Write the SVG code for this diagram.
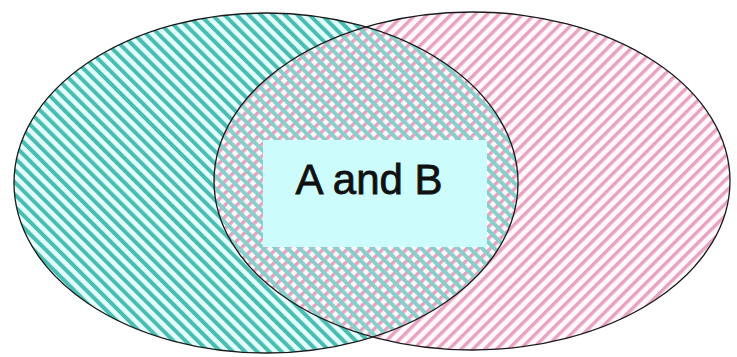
<svg xmlns="http://www.w3.org/2000/svg" width="737" height="357" viewBox="0 0 737 357">
  <style>
    .outline { fill: none; stroke: #1a1a1a; stroke-width: 1.3; }
    .label { font-family: "Liberation Sans", Arial, sans-serif; font-size: 42px; fill: #111; stroke: #111; stroke-width: 0.8; text-anchor: middle; }
  </style>
  <defs>
    <pattern id="tealStripes" width="8.6" height="8.6" patternUnits="userSpaceOnUse" patternTransform="rotate(-45)">
      <rect x="0" y="0" width="4" height="8.6" fill="#48beb2"/>
    </pattern>
    <pattern id="tealStripesLight" width="8.6" height="8.6" patternUnits="userSpaceOnUse" patternTransform="rotate(-45)">
      <rect x="0" y="0" width="4" height="8.6" fill="#86cfcb"/>
    </pattern>
    <pattern id="pinkStripes" width="8.4" height="8.4" patternUnits="userSpaceOnUse" patternTransform="rotate(45)">
      <rect x="0" y="0" width="3.4" height="8.4" fill="#e8a2c0"/>
    </pattern>
    <clipPath id="clipA">
      <ellipse cx="266" cy="183" rx="252" ry="170"/>
    </clipPath>
  </defs>
  <rect width="737" height="357" fill="#ffffff"/>
  <g id="setA">
    <ellipse cx="266" cy="183" rx="252" ry="170" fill="#e6fdfd"/>
    <ellipse cx="266" cy="183" rx="252" ry="170" fill="url(#tealStripes)"/>
  </g>
  <g id="setB">
    <ellipse cx="472" cy="181" rx="258" ry="169" fill="#fff8fb"/>
    <ellipse cx="472" cy="181" rx="258" ry="169" fill="url(#pinkStripes)"/>
  </g>
  <g id="overlap" clip-path="url(#clipA)">
    <ellipse cx="472" cy="181" rx="258" ry="169" fill="url(#tealStripesLight)" style="mix-blend-mode:multiply"/>
  </g>
  <g id="outlines">
    <ellipse class="outline" cx="266" cy="183" rx="252" ry="170"/>
    <ellipse class="outline" cx="472" cy="181" rx="258" ry="169"/>
  </g>
  <g id="labelAB">
    <rect x="263" y="140" width="224" height="107" fill="#ccfcfc"/>
    <text class="label" x="369" y="194">A and B</text>
  </g>
</svg>
